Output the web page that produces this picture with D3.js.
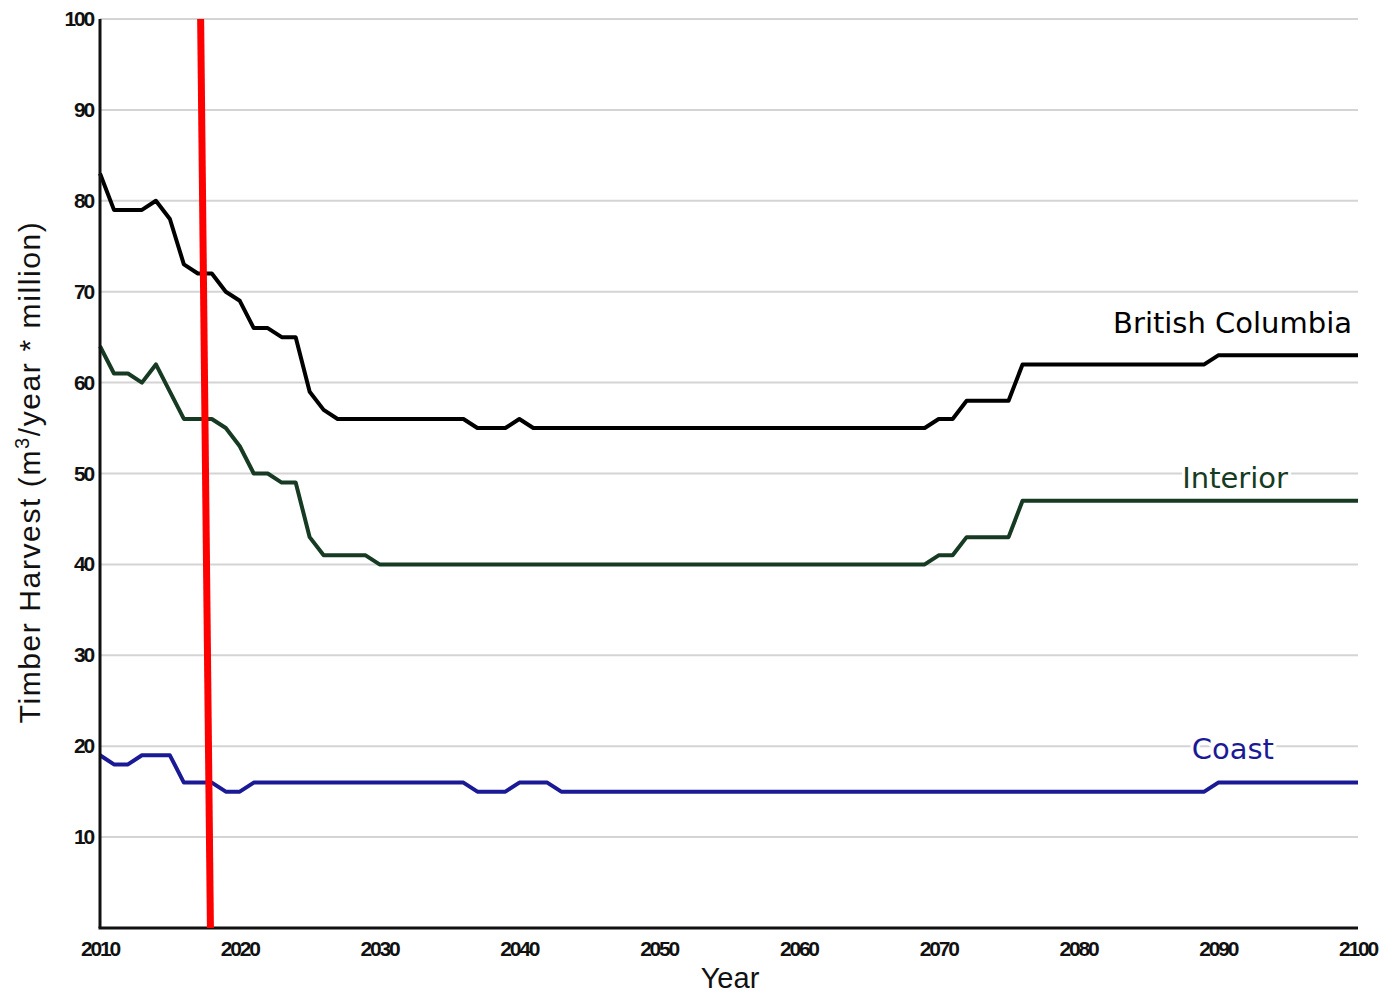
<!DOCTYPE html>
<html><head><meta charset="utf-8">
<script src="https://cdn.jsdelivr.net/npm/d3@7"></script>
<style>body{margin:0;background:#fff}</style>
</head><body>
<svg id="c" width="1388" height="997"></svg>
<script>
const bcKnots = [[2010,83],[2011,79],[2013,79],[2014,80],[2015,78],[2016,73],[2017,72],[2018,72],[2019,70],[2020,69],[2021,66],[2022,66],[2023,65],[2024,65],[2025,59],[2026,57],[2027,56],[2036,56],[2037,55],[2039,55],[2040,56],[2041,55],[2069,55],[2070,56],[2071,56],[2072,58],[2075,58],[2076,62],[2089,62],[2090,63],[2100,63]];
const interiorKnots = [[2010,64],[2011,61],[2012,61],[2013,60],[2014,62],[2015,59],[2016,56],[2018,56],[2019,55],[2020,53],[2021,50],[2022,50],[2023,49],[2024,49],[2025,43],[2026,41],[2029,41],[2030,40],[2069,40],[2070,41],[2071,41],[2072,43],[2075,43],[2076,47],[2100,47]];
const coastKnots = [[2010,19],[2011,18],[2012,18],[2013,19],[2015,19],[2016,16],[2018,16],[2019,15],[2020,15],[2021,16],[2036,16],[2037,15],[2039,15],[2040,16],[2042,16],[2043,15],[2089,15],[2090,16],[2100,16]];
const yTicks = [10,20,30,40,50,60,70,80,90,100];
const xTicks = [2010,2020,2030,2040,2050,2060,2070,2080,2090,2100];
const redMarker = [[2017.2,100],[2017.9,0]];

const svg = d3.select('#c');
const x = d3.scaleLinear().domain([2010,2100]).range([100,1358]);
const y = d3.scaleLinear().domain([0,100]).range([928,19]);

// grid
svg.append('g').selectAll('line').data(yTicks).join('line')
  .attr('x1',x(2010)).attr('x2',x(2100)).attr('y1',d=>y(d)).attr('y2',d=>y(d))
  .attr('stroke','#d4d4d4').attr('stroke-width',2);

// tick labels
svg.append('g').selectAll('text').data(yTicks).join('text')
  .attr('x',93).attr('y',d=>y(d)+7).attr('text-anchor','end')
  .attr('font-family','Liberation Sans, Arial, sans-serif').attr('font-size',21).attr('font-weight','bold')
  .attr('letter-spacing',-2.2).attr('fill','#111').text(d=>d);
svg.append('g').selectAll('text').data(xTicks).join('text')
  .attr('x',d=>x(d)).attr('y',956).attr('text-anchor','middle')
  .attr('font-family','Liberation Sans, Arial, sans-serif').attr('font-size',21).attr('font-weight','bold')
  .attr('letter-spacing',-2.2).attr('fill','#111').text(d=>d);

// series
const line = d3.line().x(d=>x(d[0])).y(d=>y(d[1]));
const series = [
  {name:'British Columbia', data:bcKnots, color:'#000000', lx:1352, ly:65.5},
  {name:'Interior', data:interiorKnots, color:'#163a22', lx:1288, ly:48.4},
  {name:'Coast', data:coastKnots, color:'#1a1a96', lx:1274, ly:18.6}
];
svg.append('g').selectAll('path').data(series).join('path')
  .attr('d',d=>line(d.data)).attr('fill','none').attr('stroke',d=>d.color)
  .attr('stroke-width',4).attr('stroke-linejoin','round');

// labels
svg.append('g').selectAll('text').data(series).join('text')
  .attr('x',d=>d.lx).attr('y',d=>y(d.ly)).attr('text-anchor','end')
  .attr('font-family','DejaVu Sans, Verdana, sans-serif').attr('font-size',29)
  .attr('fill',d=>d.color).attr('stroke','#fff').attr('stroke-width',6)
  .attr('paint-order','stroke').text(d=>d.name);

// axes lines
svg.append('line').attr('x1',x(2010)).attr('x2',x(2010)).attr('y1',y(100)).attr('y2',y(0))
  .attr('stroke','#111').attr('stroke-width',3);
svg.append('line').attr('x1',x(2010)-1.5).attr('x2',x(2100)).attr('y1',y(0)).attr('y2',y(0))
  .attr('stroke','#111').attr('stroke-width',3);

// red marker
svg.append('path').attr('d',line(redMarker)).attr('stroke','#ff0000').attr('stroke-width',7).attr('fill','none');

// axis titles
svg.append('text').attr('x',730).attr('y',988).attr('text-anchor','middle')
  .attr('font-family','Liberation Sans, Arial, sans-serif').attr('font-size',29)
  .attr('fill','#111').text('Year');
const yt = svg.append('text').attr('transform','translate(40,472) rotate(-90)')
  .attr('text-anchor','middle').attr('font-family','Liberation Sans, Arial, sans-serif')
  .attr('font-size',30).attr('letter-spacing',1.6).attr('fill','#111');
yt.append('tspan').text('Timber Harvest (m');
yt.append('tspan').attr('dy',-11).attr('font-size',20).text('3');
yt.append('tspan').attr('dy',11).text('/year * million)');
</script>
</body></html>
